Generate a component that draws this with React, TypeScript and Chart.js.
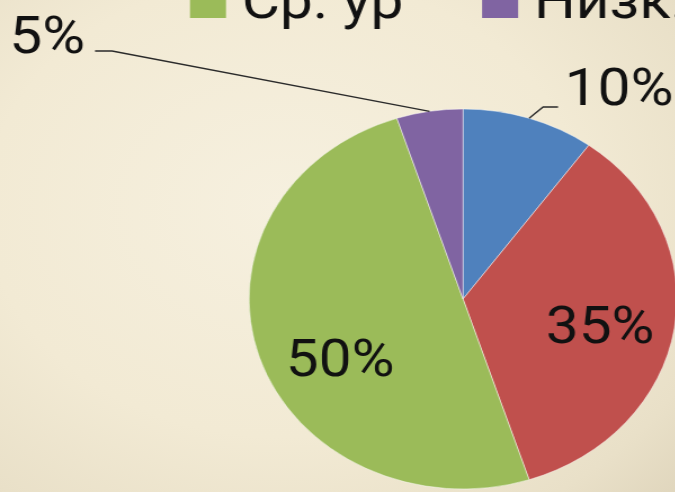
import React, { useEffect, useRef } from "react";
import { Chart, registerables } from "chart.js";

Chart.register(...registerables);

// ---- data ----
const categories = ["Выс. ур", "Выше ср.", "Ср. ур", "Низк."];
const values = [10, 35, 50, 5];
const sliceColors = ["#4F81BD", "#C0504D", "#9BBB59", "#8064A2"];

// ---- styling ----
const STRETCH_X = 1.126; // the slide picture is stretched horizontally
const FONT = "Roboto, 'Open Sans', sans-serif";
const FONT_SIZE = 52;

const labelPlugin = {
  id: "sliceLabels",
  afterDatasetsDraw(chart: any, _args: any, opts: any) {
    const ctx = chart.ctx as CanvasRenderingContext2D;
    const meta = chart.getDatasetMeta(0);
    const data = chart.data.datasets[0].data as number[];
    const total = data.reduce((a, b) => a + b, 0);
    ctx.save();
    ctx.font = `${opts.fontSize}px ${FONT}`;
    ctx.fillStyle = "#111111";
    ctx.strokeStyle = "#2a2a2a";
    ctx.lineWidth = 1.4;
    meta.data.forEach((arc: any, i: number) => {
      const p = arc.getProps(["x", "y", "startAngle", "endAngle", "outerRadius"], true);
      const place = opts.placement[i];
      const text = `${Math.round((data[i] / total) * 100)}%`;
      const mid = (p.startAngle + p.endAngle) / 2;
      if (place.outside) {
        const ex = p.x + Math.cos(mid) * p.outerRadius;
        const ey = p.y + Math.sin(mid) * p.outerRadius;
        const bx = ex + place.elbow[0];
        const by = ey + place.elbow[1];
        const tx = bx + place.tail;
        ctx.beginPath();
        ctx.moveTo(ex, ey);
        ctx.lineTo(bx, by);
        ctx.lineTo(tx, by);
        ctx.stroke();
        const dir = Math.sign(place.tail);
        ctx.textAlign = dir < 0 ? "right" : "left";
        ctx.textBaseline = "alphabetic";
        ctx.fillText(text, tx + dir * place.gap, by + place.baseline);
      } else {
        const a = mid + (place.shift * Math.PI) / 180;
        const r = p.outerRadius * place.frac;
        ctx.textAlign = "center";
        ctx.textBaseline = "alphabetic";
        ctx.fillText(text, p.x + Math.cos(a) * r, p.y + Math.sin(a) * r + (opts.fontSize * 0.711) / 2);
      }
    });
    ctx.restore();
  },
};

const legendPlugin = {
  id: "rowLegend",
  afterDraw(chart: any, _args: any, opts: any) {
    const ctx = chart.ctx as CanvasRenderingContext2D;
    const meta = chart.getDatasetMeta(0);
    const arc0 = meta.data[0];
    if (!arc0) return;
    const cx = arc0.x;
    const cy = arc0.y;
    const labels = chart.data.labels as string[];
    const colors = chart.data.datasets[0].backgroundColor as string[];
    ctx.save();
    ctx.font = `${opts.fontSize}px ${FONT}`;
    ctx.textAlign = "left";
    ctx.textBaseline = "alphabetic";
    const rows: number[][] = opts.rows;
    rows.forEach((row, r) => {
      let x = cx + opts.offsetX;
      const boxBottom = cy + opts.offsetY - (rows.length - 1 - r) * opts.rowHeight;
      row.forEach((i) => {
        ctx.fillStyle = colors[i];
        ctx.fillRect(x, boxBottom - opts.box, opts.box, opts.box);
        ctx.fillStyle = "#111111";
        ctx.fillText(labels[i], x + opts.box + opts.gap, boxBottom);
        x += opts.box + opts.gap + ctx.measureText(labels[i]).width + opts.itemGap;
      });
    });
    ctx.restore();
  },
};

export default function App() {
  const ref = useRef<HTMLCanvasElement>(null);

  useEffect(() => {
    document.body.style.margin = "0";
    if (!ref.current) return;
    let alive = true;
    const chart = new Chart(ref.current, {
      type: "pie",
      data: {
        labels: categories,
        datasets: [
          {
            data: values,
            backgroundColor: sliceColors,
            borderColor: "rgba(255,255,255,0.45)",
            borderWidth: 1,
            radius: 190,
          } as any,
        ],
      },
      options: {
        responsive: false,
        animation: false,
        devicePixelRatio: 1,
        events: [],
        layout: { padding: { left: 202.4, top: 106, right: 0, bottom: 0 } },
        plugins: {
          legend: { display: false },
          tooltip: { enabled: false },
          sliceLabels: {
            fontSize: FONT_SIZE,
            placement: [
              { outside: true, elbow: [12.4, -11.3], tail: 13.3, gap: 6, baseline: -2 },
              { frac: 0.655, shift: 3 },
              { frac: 0.653, shift: -10.4 },
              { outside: true, elbow: [-282, -60.3], tail: -15.1, gap: 8.9, baseline: 2 },
            ],
          },
          rowLegend: {
            fontSize: FONT_SIZE,
            rows: [
              [0, 1],
              [2, 3],
            ],
            offsetX: -242.5,
            offsetY: -281,
            rowHeight: 62,
            box: 32,
            gap: 14,
            itemGap: 70,
          },
        } as any,
      },
      plugins: [labelPlugin, legendPlugin],
    });
    const fonts = (document as any).fonts;
    if (fonts && fonts.load) {
      fonts.load(`${FONT_SIZE}px Roboto`).then(() => {
        if (alive) chart.draw();
      });
    }
    return () => {
      alive = false;
      chart.destroy();
    };
  }, []);

  return (
    <div
      style={{
        position: "relative",
        width: 675,
        height: 492,
        overflow: "hidden",
        background:
          "radial-gradient(ellipse 80% 85% at 42% 42%, #F6F0DF 0%, #F2EAD4 55%, #E9E0C8 85%, #E0D6BD 100%)",
      }}
    >
      <canvas
        ref={ref}
        width={620}
        height={492}
        style={{
          position: "absolute",
          left: 0,
          top: 0,
          transform: `scaleX(${STRETCH_X})`,
          transformOrigin: "0 0",
        }}
      />
    </div>
  );
}
